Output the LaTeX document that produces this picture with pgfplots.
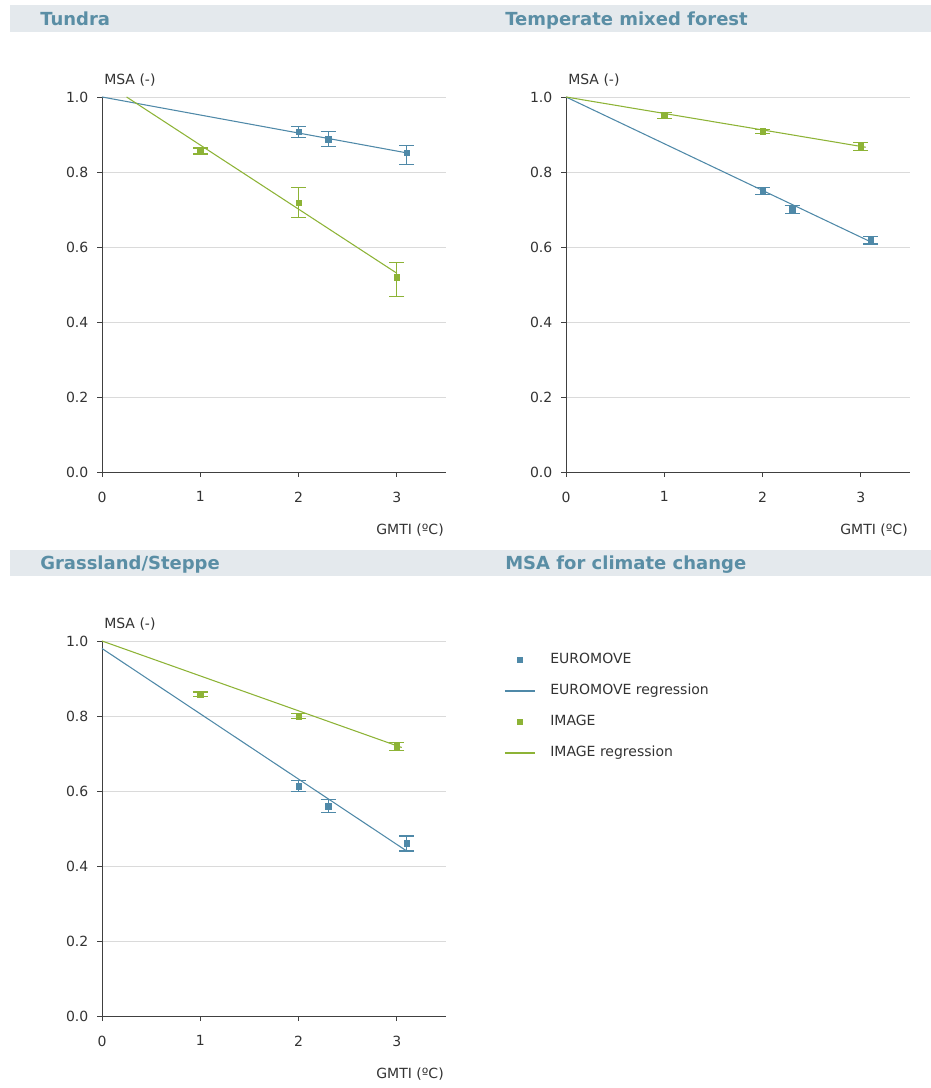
\documentclass[border=0pt]{standalone}
\usepackage{pgfplots}
\pgfplotsset{compat=1.18}
\usepackage{fontspec}
\setmainfont{DejaVu Sans}
\definecolor{euro}{HTML}{4F89A8}
\definecolor{img}{HTML}{8DB336}
\definecolor{band}{HTML}{E4E9ED}
\definecolor{ttl}{HTML}{5A8EA5}
\definecolor{grd}{HTML}{DADADA}
\definecolor{txt}{HTML}{333333}
\pgfplotsset{
  panel/.style={
    scale only axis, width=258pt, height=281.25pt,
    xmin=0, xmax=3.5, ymin=0, ymax=1,
    axis x line*=bottom, axis y line*=left,
    axis line style={-, color=black!75, line width=0.7pt},
    xtick={0,1,2,3}, ytick={0,0.2,0.4,0.6,0.8,1.0},
    tick align=outside, major tick length=3.75pt,
    tick style={color=black!75, line width=0.6pt},
    ymajorgrids, grid style={grd, line width=0.6pt},
    /pgf/number format/assume math mode=true,
    tick label style={font=\fontsize{10.5pt}{12pt}\selectfont, color=txt},
    xticklabel style={yshift=-7.5pt},
    yticklabel style={xshift=-3pt, /pgf/number format/.cd, fixed, fixed zerofill, precision=1},
    clip=false,
  },
  pts/.style={only marks, mark=square*, mark size=2.1pt, mark options={fill=#1, draw=#1},
    color=#1,
    error bars/y dir=both, error bars/y explicit,
    error bars/error bar style={color=#1, line width=0.8pt},
    error bars/error mark options={rotate=90, mark size=5.6pt, line width=0.8pt, color=#1}},
  reg/.style={no marks, color=#1, line width=0.8pt},
}
\newcommand{\axlabels}{%
  \node[anchor=west, font=\fontsize{10.5pt}{12pt}\selectfont, text=txt, inner sep=0pt] at (rel axis cs:0,1) [xshift=1.5pt, yshift=12.75pt] {MSA (-)};
  \node[anchor=east, font=\fontsize{10.5pt}{12pt}\selectfont, text=txt, inner sep=0pt] at (rel axis cs:1,0) [xshift=-1.5pt, yshift=-43.5pt] {GMTI (ºC)};
}
\begin{document}
\begin{tikzpicture}[x=0.75pt,y=0.75pt]
\useasboundingbox (0,0) rectangle (931,1088);
\fill[band] (10,1088-32) rectangle (931,1088-5);
\fill[band] (10,1088-576) rectangle (931,1088-550);
\node[anchor=base west, inner sep=0pt, text=ttl, font=\bfseries\fontsize{13.5pt}{16pt}\selectfont] at (40,1088-26) {Tundra};
\node[anchor=base west, inner sep=0pt, text=ttl, font=\bfseries\fontsize{13.5pt}{16pt}\selectfont] at (505,1088-26) {Temperate mixed forest};
\node[anchor=base west, inner sep=0pt, text=ttl, font=\bfseries\fontsize{13.5pt}{16pt}\selectfont] at (40,1088-570) {Grassland/Steppe};
\node[anchor=base west, inner sep=0pt, text=ttl, font=\bfseries\fontsize{13.5pt}{16pt}\selectfont] at (505,1088-570) {MSA for climate change};

% Tundra
\begin{axis}[panel, at={(76.5pt,462pt)}, anchor=south west]
\addplot[reg=euro] coordinates {(0,1.0) (3.1,0.851)};
\addplot[reg=img] coordinates {(0.25,1.0) (3,0.53)};
\addplot[pts=euro] coordinates {(2,0.907) +- (0,0.015) (2.3,0.888) +- (0,0.02) (3.1,0.851) += (0,0.02) -= (0,0.032)};
\addplot[pts=img] coordinates {(1,0.856) +- (0,0.008) (2,0.718) +- (0,0.04) (3,0.519) += (0,0.039) -= (0,0.05)};
\axlabels
\end{axis}

% Temperate mixed forest
\begin{axis}[panel, at={(424.5pt,462pt)}, anchor=south west]
\addplot[reg=euro] coordinates {(0,1.0) (3.13,0.61)};
\addplot[reg=img] coordinates {(0,1.0) (3.05,0.866)};
\addplot[pts=euro] coordinates {(2,0.749) +- (0,0.01) (2.3,0.70) +- (0,0.01) (3.1,0.618) +- (0,0.01)};
\addplot[pts=img] coordinates {(1,0.95) +- (0,0.008) (2,0.908) +- (0,0.006) (3,0.868) +- (0,0.01)};
\axlabels
\end{axis}

% Grassland/Steppe
\begin{axis}[panel, at={(76.5pt,54pt)}, anchor=south west,
  legend style={at={(1.157,0.975)}, anchor=north west, draw=none, fill=none,
    font=\fontsize{10.5pt}{12pt}\selectfont, text=txt,
    nodes={inner sep=0pt, text height=8pt, text depth=2pt, anchor=west},
    row sep=13.25pt,
    /tikz/every odd column/.append style={column sep=11.25pt}},
  legend cell align=left]
\addlegendimage{legend image code/.code={\fill[euro] (9.5pt,-1.75pt) rectangle (13pt,1.75pt);}}
\addlegendentry{EUROMOVE}
\addlegendimage{legend image code/.code={\draw[euro, line width=0.8pt] (0pt,0pt) -- (22.5pt,0pt);}}
\addlegendentry{EUROMOVE regression}
\addlegendimage{legend image code/.code={\fill[img] (9.5pt,-1.75pt) rectangle (13pt,1.75pt);}}
\addlegendentry{IMAGE}
\addlegendimage{legend image code/.code={\draw[img, line width=0.8pt] (0pt,0pt) -- (22.5pt,0pt);}}
\addlegendentry{IMAGE regression}
\addplot[forget plot, reg=euro] coordinates {(0,0.98) (3.1,0.44)};
\addplot[forget plot, reg=img] coordinates {(0,1.0) (3.05,0.716)};
\addplot[forget plot, pts=euro] coordinates {(2,0.613) +- (0,0.014) (2.3,0.56) +- (0,0.018) (3.1,0.46) +- (0,0.02)};
\addplot[forget plot, pts=img] coordinates {(1,0.858) +- (0,0.006) (2,0.80) +- (0,0.006) (3,0.719) +- (0,0.01)};
\axlabels
\end{axis}
\end{tikzpicture}
\end{document}
